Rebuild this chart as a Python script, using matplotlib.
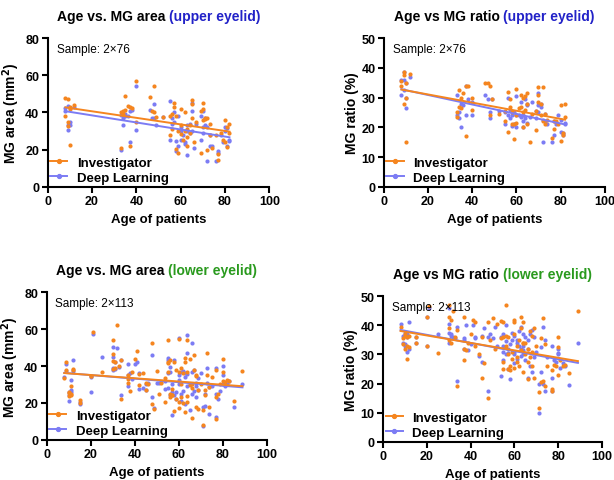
import numpy as np
import matplotlib
matplotlib.use("Agg")
import matplotlib.pyplot as plt
from matplotlib.lines import Line2D

plt.rcParams['font.family'] = ['Liberation Sans', 'DejaVu Sans']

ORANGE = '#F5851F'
BLUE = '#7C7CF4'
TITLE_BLUE = '#2222C8'
TITLE_GREEN = '#2A9A1E'

# ---------------- upper eyelid (76 patients) ----------------
upper_age = [8, 8, 9, 9, 9, 10, 10, 10, 12,
             33, 33, 34, 34, 35, 35, 36, 37, 37, 38, 40, 40,
             46, 47, 48, 48, 49, 52,
             55, 55, 56, 56, 57, 57, 58, 58, 59, 59, 60, 60, 60, 61, 62, 62, 63, 63, 63,
             64, 64, 65, 65, 65, 66, 67, 69, 69, 70, 70, 70, 71, 71, 72, 72, 73, 73, 74,
             76, 77, 77, 78, 79, 80, 80, 81, 81, 82, 82]
upper_area_inv = [48, 38, 47.5, 35, 32.5, 22.5, 43, 42, 44,
                  21, 40, 39, 41, 49, 41.5, 43.5, 22, 43, 42.5, 57, 35,
                  48.5, 41, 54.5, 40, 37.5, 37.5,
                  38, 28, 39, 31, 45, 43, 20.5, 38, 18, 30,
                  42, 28.5, 33, 25, 40, 30, 22, 27, 31, 33,
                  29, 47, 37, 44.5, 24, 35, 41, 18, 45, 42,
                  36, 36.5, 37, 20, 37, 34, 28, 21, 28, 17.5,
                  14.5, 29, 25, 36, 24, 21.5, 32, 34, 29]
upper_area_dl = [42.5, 41, 43.5, 30.5, 33, 35, 42.5, 33, 43,
                 20, 38.5, 37, 33, 39, 38, 38, 24, 41, 41.5, 54.5, 30.5,
                 41.5, 37, 44.5, 37, 33.5, 37.5,
                 46, 25, 37, 34, 40, 35, 19, 24.5, 22, 38,
                 30, 25, 32, 28, 24, 23, 17, 33, 30, 34,
                 29, 45, 41, 30, 21, 34, 38, 25, 41, 32,
                 29, 33, 37, 14, 32, 22, 28, 22, 14, 19,
                 18, 28, 24, 32, 30, 22, 31.5, 24.5, 25]
upper_ratio_inv = [34, 35.5, 38.5, 37.5, 28, 35, 30, 15, 38,
                   23.5, 25, 27, 32.5, 26.5, 30, 31.5, 17, 34, 34, 30, 26,
                   35, 35, 34, 24, 29.5, 24.5,
                   22, 25.5, 32, 18.5, 27, 29.5, 21, 25, 16, 21,
                   33, 21.5, 24, 26.5, 31, 27, 25, 30, 20, 30.5,
                   26, 31.5, 28, 21, 15, 24.5, 25.5, 19, 33.5, 28.5,
                   31, 28, 24, 33.5, 22, 24.5, 21, 22.5, 16.5, 19.5,
                   22, 22, 21, 27.5, 15.5, 18, 17.5, 28, 23.5]
upper_ratio_dl = [31, 36, 38.5, 32.5, 36, 30, 26.5, 35, 37,
                  31, 24, 25, 23, 28, 20, 27.5, 34, 24, 29.5, 28.5, 24,
                  31, 29.5, 23, 25, 29.5, 25.5,
                  21, 25, 30, 24, 23, 26, 20.5, 24, 21, 25,
                  30.5, 20, 24, 24, 28.5, 23.5, 20, 24, 22, 29.5,
                  23, 27.5, 28, 21.5, 23.5, 28.5, 25.5, 23, 31.5, 25,
                  27.5, 27, 28, 15, 22.5, 22, 24.5, 21, 15, 17.5,
                  22, 21, 24, 22.5, 18.5, 17.5, 18, 21.5, 21]

# ---------------- lower eyelid (113 patients) ----------------
lower_age = [8, 9, 9, 10, 10, 10, 11, 11, 11, 12, 12,
             15, 15, 20, 20, 21, 25,
             30, 30, 30, 30, 31, 31, 32, 33, 34, 34,
             37, 37, 37, 38, 39, 40, 41, 42, 42, 44, 45, 45, 46,
             48, 48, 49, 50, 51, 52,
             54, 54, 55, 55, 55, 55, 56, 56, 56, 57, 57, 57, 58, 58, 59, 59, 60, 60, 60, 60,
             61, 61, 61, 62, 62, 63, 63, 63, 64, 64, 64, 64, 65, 65, 66, 66, 66, 67, 67,
             68, 68, 68, 69, 69, 70,
             71, 71, 72, 72, 73, 73, 74, 74, 75, 77, 77, 77, 78, 79, 80, 80, 80, 81, 82, 83, 85, 89]
lower_area_inv = [33.5, 42, 38, 25.5, 23.5, 26, 29, 24.5, 25, 38.5, 38,
                  21.5, 20, 34.5, 34.5, 58.5, 36.5,
                  54, 46.5, 42.5, 38.5, 42, 39, 62, 40, 43.5, 22,
                  35, 33, 31, 26.5, 37, 44, 48, 29.5, 35.5, 36, 27, 31, 30,
                  52.5, 19.5, 16.5, 37.5, 25, 31,
                  33.5, 20.5, 36.5, 41.5, 42, 54, 25, 43, 23, 27.5,
                  24, 24, 15.5, 42, 22, 38, 20.5, 37, 54.5, 17,
                  23, 39, 30, 20, 36, 15, 44.5, 42, 20.5, 37,
                  54, 23.5, 44, 29.5, 12, 28, 30.5, 38, 46, 35,
                  18, 34.5, 27, 16.5, 30,
                  8, 16, 27, 24, 47, 35, 18, 28.5, 34, 38, 23, 11.5, 25, 30, 44, 37, 32, 31.5,
                  32.5, 32, 21, 37.5]
lower_area_dl = [34, 41, 37.5, 26, 21, 24.5, 27, 32.5, 26, 43.5, 37.5,
                 19.5, 20.5, 26, 34, 57.5, 45,
                 50.5, 45, 39, 38, 38.5, 42, 50, 39.5, 43.5, 24,
                 41, 29, 35, 36, 33, 41, 42, 27.5, 36, 28, 27, 30, 31,
                 46, 23, 17, 31, 31, 31.5,
                 32, 27.5, 43.5, 28, 36, 44.5, 37, 24, 39.5, 26,
                 13.5, 30, 24, 43, 22, 26, 30.5, 32.5, 55, 35,
                 25, 37, 21, 26.5, 37.5, 19.5, 34, 36, 29, 35.5,
                 57, 47, 30, 16, 52.5, 25, 37, 26.5, 38, 23,
                 29, 31, 27, 33.5, 36,
                 7.5, 18, 25, 18.5, 39, 31, 14, 28.5, 29, 39, 25, 12.5, 22, 26.5, 40, 35, 30, 29,
                 30, 32, 17.5, 30]
lower_ratio_inv = [39.5, 35.5, 33.5, 37, 32, 36.5, 28.5, 33, 36, 36.5, 32.5,
                   36, 34, 43, 33, 46.5, 30.5,
                   47, 43, 39, 35, 42, 34, 45, 36, 38.5, 19,
                   43, 28, 32, 31.5, 34, 37, 42, 41, 33, 30, 22, 36, 27,
                   15, 41, 35, 42.5, 32, 40.5,
                   41.5, 35.5, 25, 36, 27.5, 41, 47, 33, 36.5, 25,
                   30, 36, 26, 24.5, 31, 28.5, 42, 25.5, 37, 41,
                   29, 33, 27.5, 35, 26, 43, 31.5, 39, 34, 24,
                   41, 34, 30, 34, 27.5, 21.5, 32, 38, 29, 36.5,
                   31, 26, 22, 39, 33,
                   11.5, 17, 20.5, 35.5, 42.5, 21, 19, 33.5, 26, 24.5,
                   17.5, 18, 26.5, 26, 36, 23, 32.5, 28, 26, 26.5, 23.5, 45]
lower_ratio_dl = [40.5, 36.5, 34, 33.5, 37.5, 33, 31, 37, 36, 41, 32,
                  34, 36, 33, 43, 46, 37,
                  40.5, 37.5, 46, 34, 37, 36.5, 36, 35.5, 39.5, 21,
                  35, 32, 35.5, 40, 31.5, 33.5, 40, 35.5, 36, 29.5, 27.5, 36.5, 39,
                  17.5, 36, 37, 35.5, 39.5, 33,
                  36, 22.5, 31, 37, 28, 33, 40, 30, 34.5, 30.5,
                  25, 32, 21.5, 33.5, 37.5, 35, 27, 31, 36.5, 30,
                  34, 28.5, 35, 33, 38, 29.5, 32, 39.5, 37, 31.5,
                  33, 30, 36, 28, 22, 35, 32, 26, 37, 30.5,
                  24, 38.5, 36, 29, 31,
                  10, 20, 24, 32.5, 39.5, 20, 17.5, 35, 29, 22,
                  17.5, 33, 28, 27.5, 30.5, 30, 32, 25.5, 27, 26, 19.5, 34]

x_ticks = [0, 20, 40, 60, 80, 100]
series_labels = ['Investigator', 'Deep Learning']

panels = [
    dict(rect=[0.0777, 0.6098, 0.361, 0.3085], age=upper_age, inv=upper_area_inv, dl=upper_area_dl,
         ylim=80, yticks=[0, 20, 40, 60, 80], ylabel='MG area (mm$^{\\bf 2}$)',
         t1='Age vs. MG area ', t2='(upper eyelid)', tc=TITLE_BLUE, sample='Sample: 2\u00d776'),
    dict(rect=[0.625, 0.6098, 0.36, 0.3085], age=upper_age, inv=upper_ratio_inv, dl=upper_ratio_dl,
         ylim=50, yticks=[0, 10, 20, 30, 40, 50], ylabel='MG ratio (%)',
         t1='Age vs MG ratio ', t2='(upper eyelid)', tc=TITLE_BLUE, sample='Sample: 2\u00d776'),
    dict(rect=[0.076, 0.0838, 0.3583, 0.3064], age=lower_age, inv=lower_area_inv, dl=lower_area_dl,
         ylim=80, yticks=[0, 20, 40, 60, 80], ylabel='MG area (mm$^{\\bf 2}$)',
         t1='Age vs. MG area ', t2='(lower eyelid)', tc=TITLE_GREEN, sample='Sample: 2\u00d7113'),
    dict(rect=[0.6238, 0.0796, 0.3567, 0.3023], age=lower_age, inv=lower_ratio_inv, dl=lower_ratio_dl,
         ylim=50, yticks=[0, 10, 20, 30, 40, 50], ylabel='MG ratio (%)',
         t1='Age vs MG ratio ', t2='(lower eyelid)', tc=TITLE_GREEN, sample='Sample: 2\u00d7113'),
]

TITLE_Y = 1.105

fig = plt.figure(figsize=(6.14, 4.81), dpi=100)
title_parts = []
for p in panels:
    ax = fig.add_axes(p['rect'])
    age = np.array(p['age'], float)
    inv = np.array(p['inv'], float)
    dl = np.array(p['dl'], float)
    ax.scatter(age, dl, s=9, color=BLUE, lw=0, zorder=2)
    ax.scatter(age, inv, s=9, color=ORANGE, lw=0, zorder=3)
    xs = np.array([age.min(), age.max()])
    for vals, col, z in [(dl, BLUE, 4), (inv, ORANGE, 5)]:
        k, b = np.polyfit(age, vals, 1)
        ax.plot(xs, k * xs + b, color=col, lw=1.4, zorder=z)
    ax.set_xlim(0, 100)
    ax.set_ylim(0, p['ylim'])
    ax.set_xticks(x_ticks)
    ax.set_yticks(p['yticks'])
    for s in ['top', 'right']:
        ax.spines[s].set_visible(False)
    for s in ['left', 'bottom']:
        ax.spines[s].set_linewidth(1.5)
    ax.tick_params(width=1.5, length=4, labelsize=9, pad=2)
    for lab in ax.get_xticklabels() + ax.get_yticklabels():
        lab.set_fontweight('bold')
    ax.set_xlabel('Age of patients', fontsize=9.5, fontweight='bold', labelpad=4)
    ax.set_ylabel(p['ylabel'], fontsize=10, fontweight='bold', labelpad=2)
    ax.text(0.04, 0.97, p['sample'], transform=ax.transAxes, fontsize=8.5, va='top', ha='left')
    handles = [Line2D([0], [0], color=ORANGE, lw=1.4, marker='o', ms=2.8),
               Line2D([0], [0], color=BLUE, lw=1.4, marker='o', ms=2.8)]
    ax.legend(handles, series_labels, loc='lower left', frameon=False,
              prop={'weight': 'bold', 'size': 9.5}, handlelength=1.3, handletextpad=0.7,
              borderaxespad=0.0, borderpad=0.2, labelspacing=0.25, bbox_to_anchor=(0.0, 0.0))
    t1 = ax.text(0.5, TITLE_Y, p['t1'], transform=ax.transAxes, fontsize=10, fontweight='bold',
                 color='black', ha='left', va='bottom')
    t2 = ax.text(0.5, TITLE_Y, p['t2'], transform=ax.transAxes, fontsize=10, fontweight='bold',
                 color=p['tc'], ha='left', va='bottom')
    title_parts.append((ax, t1, t2))

fig.canvas.draw()
r = fig.canvas.get_renderer()
for ax, t1, t2 in title_parts:
    axbb = ax.get_window_extent(r)
    w1 = t1.get_window_extent(r).width
    w2 = t2.get_window_extent(r).width
    total = w1 + w2
    cx = axbb.x0 + axbb.width * 0.5
    x0 = cx - total / 2
    t1.set_position(((x0 - axbb.x0) / axbb.width, TITLE_Y))
    t2.set_position(((x0 + w1 - axbb.x0) / axbb.width, TITLE_Y))

fig.savefig('out.png', dpi=100)
